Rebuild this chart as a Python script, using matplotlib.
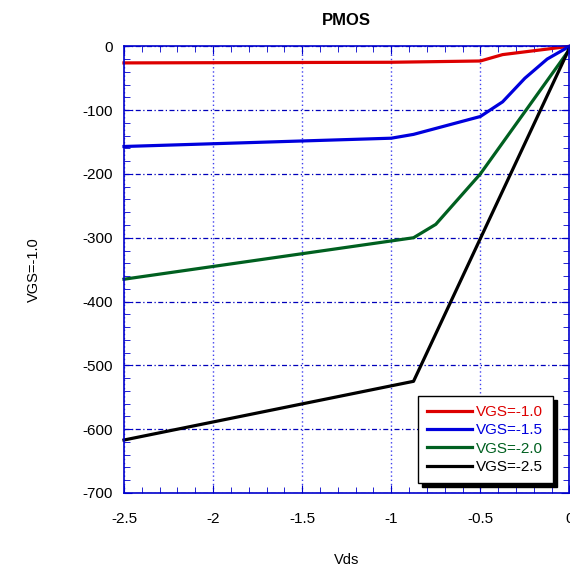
import matplotlib.pyplot as plt
from matplotlib.ticker import MultipleLocator

plt.rcParams['font.family'] = ['Liberation Sans', 'DejaVu Sans']
plt.rcParams['axes.unicode_minus'] = False

vds_10 = [-2.5, -1.0, -0.5, -0.375, 0.0]
id_10 = [-26, -25, -23, -13, 0]

vds_15 = [-2.5, -1.0, -0.875, -0.5, -0.375, -0.25, -0.125, 0.0]
id_15 = [-157, -144, -138, -110, -87, -50, -20, 0]

vds_20 = [-2.5, -0.875, -0.75, -0.5, 0.0]
id_20 = [-365, -300, -279, -200, -5]

vds_25 = [-2.5, -0.875, 0.0]
id_25 = [-617, -525, -3]

series = [
    (vds_10, id_10, 'VGS=-1.0', '#dd0000'),
    (vds_15, id_15, 'VGS=-1.5', '#0000dd'),
    (vds_20, id_20, 'VGS=-2.0', '#006020'),
    (vds_25, id_25, 'VGS=-2.5', '#000000'),
]

fig = plt.figure(figsize=(5.70, 5.69), dpi=100)
ax = fig.add_axes([0.2175, 0.1336, 0.7815, 0.785])

for x, y, lab, col in series:
    ax.plot(x, y, color=col, linewidth=2.3, label=lab, clip_on=False)

ax.set_xlim(-2.5, 0)
ax.set_ylim(-700, 0)
ax.xaxis.set_major_locator(MultipleLocator(0.5))
ax.xaxis.set_minor_locator(MultipleLocator(0.1))
ax.yaxis.set_major_locator(MultipleLocator(100))
ax.yaxis.set_minor_locator(MultipleLocator(20))
ax.xaxis.set_major_formatter(plt.FuncFormatter(lambda v, p: f'{v:g}'))

spine_col = '#0000cc'
for s in ax.spines.values():
    s.set_color(spine_col)
    s.set_linewidth(1.2)
ax.tick_params(which='both', direction='in', top=True, right=True, colors=spine_col,
               labelcolor='black', labelsize=11)
ax.tick_params(which='major', length=6)
ax.tick_params(which='minor', length=4)
ax.tick_params(axis='x', pad=14)
ax.tick_params(axis='y', pad=8)

ax.grid(True, axis='x', color='#4040ee', linestyle=(0, (1, 2)), linewidth=1.0)
ax.grid(True, axis='y', color='#0000bb', linestyle=(0, (4, 2, 1, 2)), linewidth=0.9)

ax.set_title('PMOS', fontsize=12, fontweight='bold', pad=15)
ax.set_xlabel('Vds', fontsize=10.5, labelpad=19)
ax.set_ylabel('VGS=-1.0', fontsize=10.5, labelpad=30)

leg = ax.legend(loc='lower right', bbox_to_anchor=(0.962, 0.022), fontsize=11,
                frameon=True, fancybox=False, handlelength=2.9, handletextpad=0.3,
                borderpad=0.6, labelspacing=0.28, borderaxespad=0,
                shadow={'color': 'black', 'alpha': 1.0, 'ox': 3, 'oy': -3})
leg.get_frame().set_edgecolor('black')
leg.get_frame().set_linewidth(1.0)
leg.get_frame().set_alpha(1.0)
for txt, (_, _, _, col) in zip(leg.get_texts(), series):
    txt.set_color(col)

plt.savefig('out.png', dpi=100)
